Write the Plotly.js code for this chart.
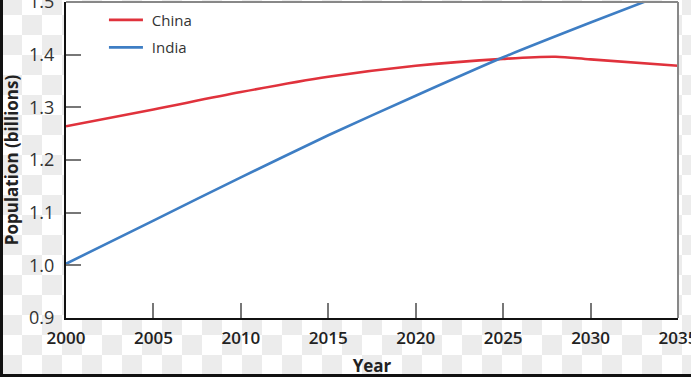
<!DOCTYPE html>
<html>
<head>
<meta charset="utf-8">
<script src="https://cdn.plot.ly/plotly-3.0.1.min.js"></script>
<style>
  html, body { margin: 0; padding: 0; }
  body {
    width: 691px; height: 377px; overflow: hidden; position: relative;
    background: repeating-conic-gradient(#ececec 0 25%, #ffffff 0 50%) 2px 15px / 40px 40px;
  }
  #chart { width: 691px; height: 377px; }
  #frame {
    position: absolute; left: 0; top: 0; width: 691px; height: 377px;
    box-sizing: border-box; border-left: 3px solid #111; border-bottom: 3px solid #111;
    pointer-events: none;
  }
</style>
</head>
<body>
<div id="chart"></div>
<div id="frame"></div>
<script>
const chinaYears = [2000, 2005, 2010, 2015, 2020, 2025, 2028, 2030, 2035];
const chinaPop   = [1.264, 1.296, 1.329, 1.358, 1.379, 1.392, 1.396, 1.391, 1.379];
const indiaYears = [2000, 2005, 2010, 2015, 2020, 2025, 2030, 2035];
const indiaPop   = [1.003, 1.085, 1.167, 1.247, 1.322, 1.395, 1.461, 1.525];
const xTicks = [2000, 2005, 2010, 2015, 2020, 2025, 2030, 2035];
const yTicks = [0.9, 1.0, 1.1, 1.2, 1.3, 1.4, 1.5];
const yTickText = ['0.9', '1.0', '1.1', '1.2', '1.3', '1.4', '1.5'];

const font = 'Open Sans, DejaVu Sans, sans-serif';

const traces = [
  { x: chinaYears, y: chinaPop, name: ' China', type: 'scatter', mode: 'lines',
    line: { color: '#e0323c', width: 2.6, shape: 'spline', smoothing: 0.9 }, legendgroup: 'a' },
  { x: indiaYears, y: indiaPop, name: ' India', type: 'scatter', mode: 'lines',
    line: { color: '#3e7ec4', width: 2.6, shape: 'spline', smoothing: 0.5 }, legendgroup: 'b' }
];

const layout = {
  width: 691, height: 377,
  margin: { l: 66, r: 13, t: 2, b: 59 },
  paper_bgcolor: 'rgba(0,0,0,0)',
  plot_bgcolor: '#ffffff',
  font: { family: font, color: '#333', size: 15 },
  showlegend: true,
  legend: {
    x: 0.062, y: 0.995, xanchor: 'left', yanchor: 'top',
    bgcolor: 'rgba(0,0,0,0)', font: { size: 15, color: '#333', family: font },
    tracegroupgap: 5, itemwidth: 34
  },
  xaxis: {
    range: [2000, 2035], tickvals: xTicks, ticktext: xTicks.map(String),
    ticks: 'inside', ticklen: 15, tickwidth: 2, tickcolor: '#777',
    showline: true, linecolor: '#111', linewidth: 2, mirror: false,
    showgrid: false, zeroline: false, ticklabeloverflow: 'allow', ticklabelstandoff: 4,
    tickfont: { size: 17, color: '#222', family: font, weight: 600 },
    title: { text: 'Year', font: { size: 17, color: '#222', family: font, weight: 700 }, standoff: 16 }
  },
  yaxis: {
    range: [0.9, 1.5], tickvals: yTicks, ticktext: yTickText,
    ticks: 'inside', ticklen: 15, tickwidth: 2, tickcolor: '#777',
    showline: true, linecolor: '#111', linewidth: 2,
    showgrid: false, zeroline: false, ticklabeloverflow: 'allow', ticklabelstandoff: 6,
    tickfont: { size: 18, color: '#333', family: font, weight: 500 },
    title: { text: 'Population (billions)', font: { size: 17, color: '#222', family: font, weight: 700 }, standoff: 6 }
  },
  shapes: [
    { type: 'line', xref: 'paper', yref: 'paper', x0: 0, x1: 1, y0: 1, y1: 1, line: { color: '#888', width: 2 } },
    { type: 'line', xref: 'paper', yref: 'paper', x0: 1, x1: 1, y0: 0, y1: 1, line: { color: '#888', width: 2 } }
  ]
};

Plotly.newPlot('chart', traces, layout, { displayModeBar: false, staticPlot: true });
</script>
</body>
</html>
